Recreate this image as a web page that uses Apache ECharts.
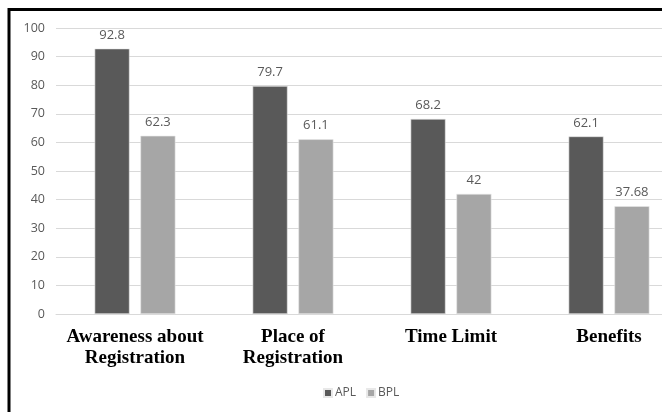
<!DOCTYPE html>
<html>
<head>
<meta charset="utf-8">
<script src="https://cdn.jsdelivr.net/npm/echarts@6/dist/echarts.min.js"></script>
<style>
  html, body { margin: 0; padding: 0; background: #fff; overflow: hidden; }
  #chart { width: 720px; height: 412px; }
</style>
</head>
<body>
<div id="chart"></div>
<script>
// Registration awareness indicators, APL vs BPL households (%)
const categories = ['Awareness about\nRegistration', 'Place of\nRegistration', 'Time Limit', 'Benefits'];
const aplValues = [92.8, 79.7, 68.2, 62.1];
const bplValues = [62.3, 61.1, 42, 37.68];
const seriesNames = ['APL', 'BPL'];

const chart = echarts.init(document.getElementById('chart'), null, { renderer: 'canvas' });

const labelStyle = {
  show: true,
  position: 'top',
  distance: 7,
  color: '#595959',
  fontFamily: 'Open Sans',
  fontSize: 13
};

chart.setOption({
  animation: false,
  backgroundColor: '#ffffff',
  graphic: [{
    type: 'rect',
    shape: { x: 9, y: 9.5, width: 740, height: 460 },
    style: { fill: 'none', stroke: '#000000', lineWidth: 3 },
    silent: true,
    z: 100
  }],
  legend: {
    data: seriesNames,
    left: 318,
    top: 382,
    itemWidth: 8,
    itemHeight: 8,
    itemGap: 10,
    icon: 'rect',
    textStyle: { color: '#595959', fontFamily: 'Open Sans', fontSize: 12, padding: [0, 0, 0, -2] }
  },
  grid: {
    left: 56,
    top: 28,
    width: 632,
    height: 286,
    containLabel: false
  },
  xAxis: {
    type: 'category',
    data: categories,
    axisLine: { show: true, lineStyle: { color: '#d9d9d9', width: 1 } },
    axisTick: { show: false },
    axisLabel: {
      color: '#000000',
      fontFamily: 'Liberation Serif',
      fontWeight: 'bold',
      fontSize: 19,
      lineHeight: 21,
      margin: 13,
      interval: 0
    }
  },
  yAxis: {
    type: 'value',
    min: 0,
    max: 100,
    interval: 10,
    axisLine: { show: false },
    axisTick: { show: false },
    splitLine: { lineStyle: { color: '#d9d9d9', width: 1 } },
    axisLabel: {
      color: '#595959',
      fontFamily: 'Open Sans',
      fontSize: 12.5,
      margin: 11
    }
  },
  series: [
    {
      name: seriesNames[0],
      type: 'bar',
      data: aplValues,
      barWidth: 35,
      barGap: '31%',
      itemStyle: { color: '#595959', borderColor: '#e8e8e8', borderWidth: 0.6 },
      label: labelStyle
    },
    {
      name: seriesNames[1],
      type: 'bar',
      data: bplValues,
      barWidth: 35,
      itemStyle: { color: '#a6a6a6', borderColor: '#e8e8e8', borderWidth: 0.6 },
      label: labelStyle
    }
  ]
});
</script>
</body>
</html>
